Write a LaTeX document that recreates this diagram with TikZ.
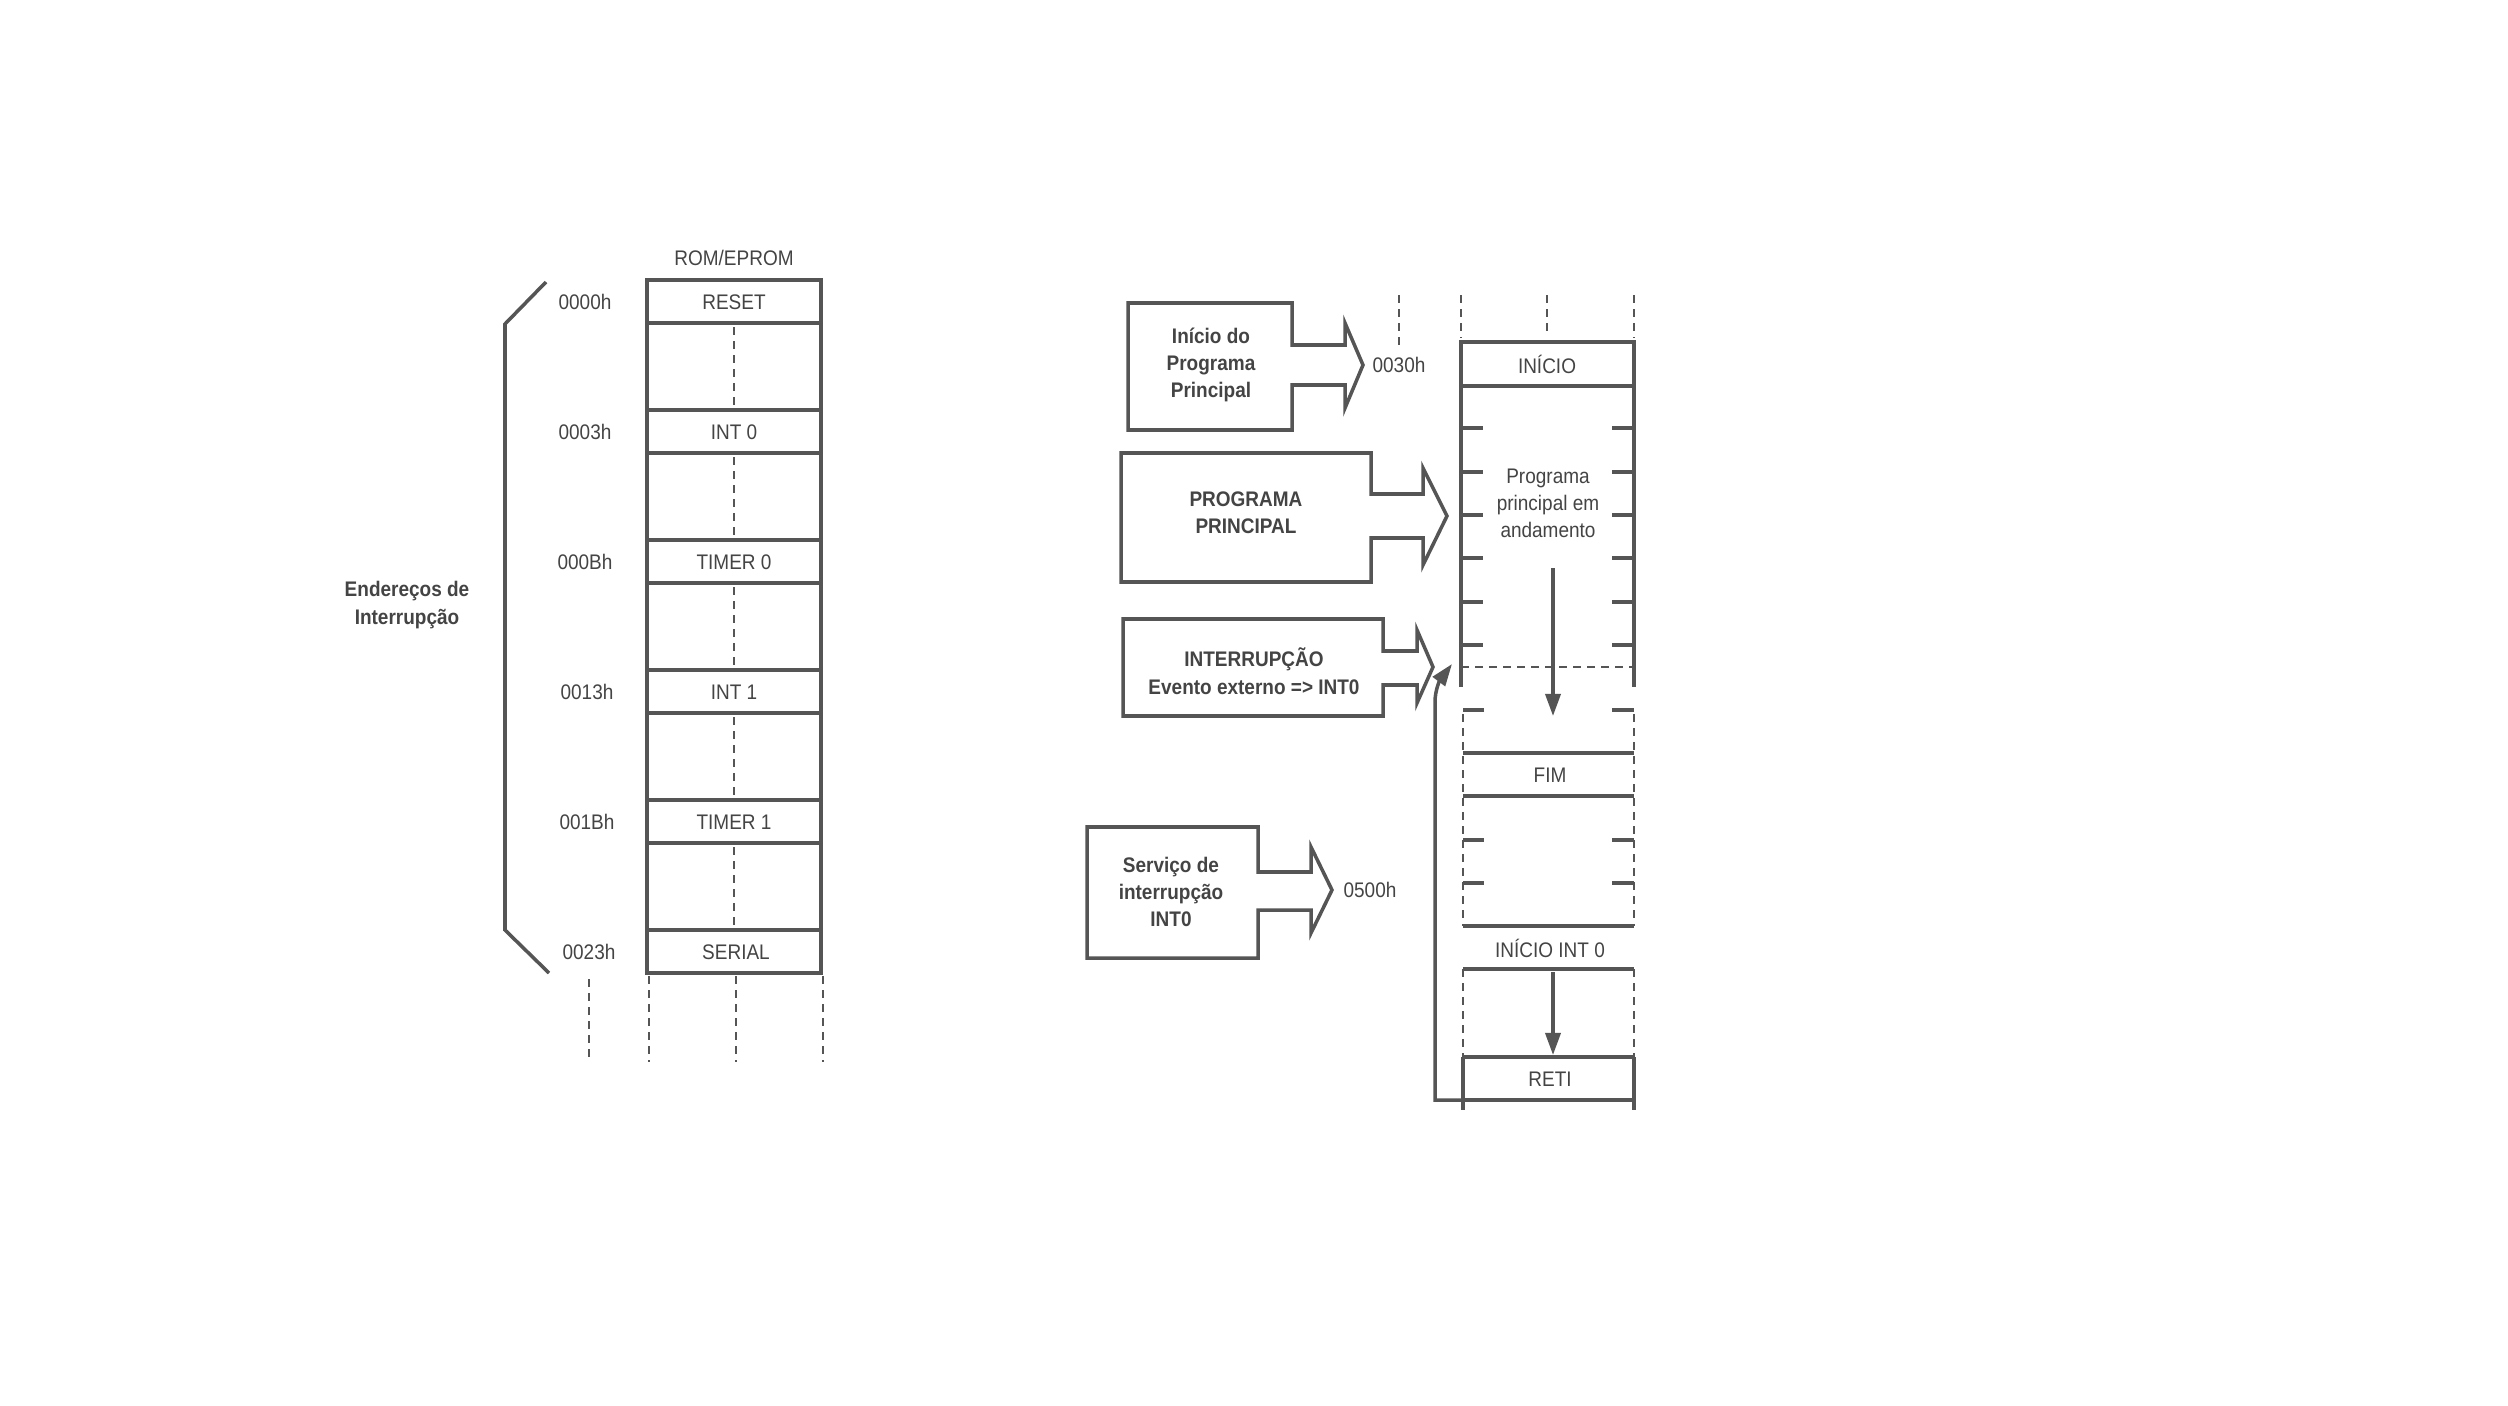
\documentclass[tikz,border=0pt]{standalone}
\usepackage{fontspec}
\setmainfont[FakeStretch=0.9]{Liberation Sans}
\usetikzlibrary{arrows.meta,calc}
\definecolor{ink}{HTML}{555555}
\definecolor{txt}{HTML}{444444}
\begin{document}
\begin{tikzpicture}[x=0.01cm,y=-0.01cm,
  line/.style={draw=ink,line width=1pt},
  dline/.style={draw=ink,line width=0.6pt,dash pattern=on 0.08cm off 0.06cm},
  lbl/.style={text=txt,font=\fontsize{6}{7.7}\selectfont,inner sep=0pt,align=center},
  blbl/.style={text=txt,font=\fontsize{6}{7.8}\selectfont\bfseries,inner sep=0pt,align=center},
  headarrow/.style={-{Triangle[width=0.15cm,length=0.22cm]}}
]
\fill[white] (0,0) rectangle (2508,1406);
\useasboundingbox (0,0) rectangle (2508,1406);

% ---------------- left: interrupt vector table ----------------
\node[lbl] (rom) at (734,258) {ROM/EPROM};
\draw[line] (647,280) rectangle (821,973);
\foreach \y in {323,410,453,540,583,670,713,800,843,930}
  \draw[line] (647,\y) -- (821,\y);
\foreach \a/\b in {327/406,457/536,587/666,717/796,847/926}
  \draw[dline] (734,\a) -- (734,\b);

\node[lbl] (reset)  at (734,302) {RESET};
\node[lbl] (int0)   at (734,432) {INT 0};
\node[lbl] (timer0) at (734,562) {TIMER 0};
\node[lbl] (int1)   at (734,692) {INT 1};
\node[lbl] (timer1) at (734,822) {TIMER 1};
\node[lbl] (serial) at (736,952) {SERIAL};

\node[lbl] (a0) at (585,302) {0000h};
\node[lbl] (a3) at (585,432) {0003h};
\node[lbl] (aB) at (585,562) {000Bh};
\node[lbl] (a13) at (587,692) {0013h};
\node[lbl] (a1B) at (587,822) {001Bh};
\node[lbl] (a23) at (589,952) {0023h};

\draw[line] (546,282) -- (505,324) -- (505,930) -- (549,973);
\node[blbl] (ender) at (407,605) {Endereços de\\Interrupção};

\draw[dline] (589,979) -- (589,1062);
\draw[dline] (649,976) -- (649,1062);
\draw[dline] (736,976) -- (736,1062);
\draw[dline] (823,976) -- (823,1062);

% ---------------- right: program memory ----------------
\draw[dline] (1399,295) -- (1399,345);
\draw[dline] (1461,295) -- (1461,338);
\draw[dline] (1547,295) -- (1547,332);
\draw[dline] (1634,295) -- (1634,338);

\draw[line] (1461,342) rectangle (1634,386);
\node[lbl] (inicio) at (1547,364) {INÍCIO};
\draw[line] (1461,386) -- (1461,687);
\draw[line] (1634,386) -- (1634,687);
\foreach \y in {428,472,515,558,602,645}{
  \draw[line] (1461,\y) -- (1483,\y);
  \draw[line] (1612,\y) -- (1634,\y);}
\draw[dline] (1461,667) -- (1634,667);
\node[lbl] (prog) at (1548,503) {Programa\\principal em\\andamento};
\coordinate (m1) at (1553,568);
\coordinate (m2) at (1553,716);
\draw[line,headarrow] (m1) -- (m2);

% lower part
\draw[line] (1484,710) -- (1463,710);
\draw[line] (1612,710) -- (1634,710);
\draw[dline] (1463,714) -- (1463,926);
\draw[dline] (1634,714) -- (1634,926);
\draw[line] (1463,753) -- (1634,753);
\draw[line] (1463,796) -- (1634,796);
\node[lbl] (fim) at (1550,775) {FIM};
\foreach \y in {840,883}{
  \draw[line] (1463,\y) -- (1484,\y);
  \draw[line] (1612,\y) -- (1634,\y);}
\draw[line] (1463,926) -- (1634,926);
\node[lbl] (inicioint) at (1550,948) {INÍCIO INT 0};

\draw[line] (1463,969) -- (1634,969);
\draw[dline] (1463,969) -- (1463,1057);
\draw[dline] (1634,969) -- (1634,1057);
\draw[line] (1463,1057) -- (1634,1057);
\draw[line] (1463,1100) -- (1634,1100);
\draw[line] (1463,1057) -- (1463,1110);
\draw[line] (1634,1057) -- (1634,1110);
\node[lbl] (reti) at (1550,1079) {RETI};
\coordinate (r1) at (1553,972);
\coordinate (r2) at (1553,1055);
\draw[line,headarrow] (r1) -- (r2);

% return from RETI
\coordinate (retA) at (1463,1100);
\coordinate (retB) at (1452,664);
\draw[line,headarrow] (retA) -- (1435,1100) -- (1435,702)
  .. controls (1435,690) and (1440,680) .. (retB);

% ---------------- block arrows ----------------
\draw[line,fill=white] (1128,303) -- (1292,303) -- (1292,345) -- (1345,345) -- (1345,323)
  -- (1363,365) -- (1345,408) -- (1345,385) -- (1292,385) -- (1292,430) -- (1128,430) -- cycle;
\node[blbl] (b1) at (1211,365) {Início do\\Programa\\Principal};
\node[lbl] (h30) at (1399,365) {0030h};

\draw[line,fill=white] (1121,453) -- (1371,453) -- (1371,494) -- (1423,494) -- (1423,468)
  -- (1447,516) -- (1423,565) -- (1423,538) -- (1371,538) -- (1371,582) -- (1121,582) -- cycle;
\node[blbl] (b2) at (1246,513) {PROGRAMA\\PRINCIPAL};

\draw[line,fill=white] (1123,619) -- (1383,619) -- (1383,651) -- (1417,651) -- (1417,630)
  -- (1433,667) -- (1417,703) -- (1417,685) -- (1383,685) -- (1383,716) -- (1123,716) -- cycle;
\node[blbl] (b3) at (1254,671) {INTERRUPÇÃO\\Evento externo => INT0};

\draw[line,fill=white] (1087,827) -- (1258,827) -- (1258,872) -- (1311,872) -- (1311,847)
  -- (1332,890) -- (1311,933) -- (1311,910) -- (1258,910) -- (1258,958) -- (1087,958) -- cycle;
\node[blbl] (b4) at (1171,892) {Serviço de\\interrupção\\INT0};
\node[lbl] (h500) at (1370,890) {0500h};
\end{tikzpicture}
\end{document}
